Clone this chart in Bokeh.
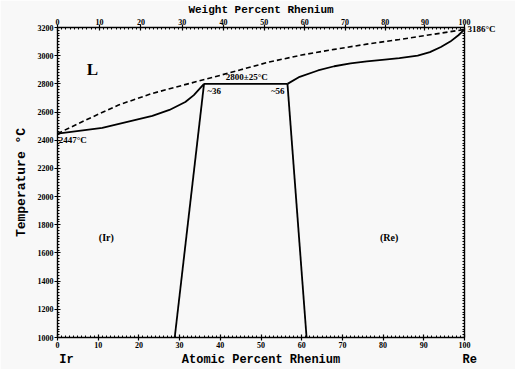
import math
from bokeh.plotting import figure
from bokeh.models import (LinearAxis, SingleIntervalTicker, FixedTicker,
                          CustomJSTickFormatter, Label, Range1d)
from bokeh.embed import file_html
from bokeh.resources import INLINE

# ---- data (atomic percent Re, temperature in deg C) ----
liq_at = [0, 7, 15, 23, 31, 38, 45, 52, 60, 68, 76, 84, 92, 100]
liq_T = [2447, 2544, 2650, 2730, 2792, 2845, 2900, 2955, 3005, 3045, 3082, 3115, 3150, 3186]

sol_ir_at = [0, 11, 23.3, 27.5, 31.4, 33.5, 36]
sol_ir_T = [2447, 2488, 2573, 2615, 2671, 2720, 2800]

sol_re_at = [56.5, 59.5, 64, 68, 72, 76, 80.4, 84, 88.5, 91.5, 94.2, 96.5, 98.5, 100]
sol_re_T = [2800, 2850, 2895, 2925, 2945, 2960, 2972, 2982, 3000, 3025, 3062, 3100, 3145, 3186]

solvus_ir_at = [36, 28.8]
solvus_ir_T = [2800, 1000]
solvus_re_at = [56.5, 61.2]
solvus_re_T = [2800, 1000]

perit_at = [36, 56.5]
perit_T = [2800, 2800]

wt_ticks = [0, 10, 20, 30, 40, 50, 60, 70, 80, 90, 100]
re_melting = [3186]
M_IR, M_RE = 192.217, 186.207


def wt_to_at(w):
    if w >= 100:
        return 100.0
    a = (w / M_RE) / (w / M_RE + (100 - w) / M_IR)
    return 100 * a


FONT = "Liberation Mono"
SERIF = "Liberation Serif"
BG = "#f8f8f8"
NB = "\u00a0"

p = figure(width=515, height=369, x_range=Range1d(0, 100), y_range=Range1d(1000, 3200),
           output_backend="svg", toolbar_location=None,
           min_border_left=57, min_border_right=51, min_border_top=25, min_border_bottom=30,
           background_fill_color=BG, border_fill_color=BG)
p.outline_line_color = None
p.grid.visible = False


def style_axis(ax):
    ax.axis_line_width = 1.4
    ax.axis_line_color = "black"
    ax.major_tick_line_width = 1.2
    ax.major_tick_in = 3
    ax.major_tick_out = 3
    ax.minor_tick_in = 2
    ax.minor_tick_out = 0
    ax.minor_tick_line_width = 1
    ax.major_label_text_font = SERIF
    ax.major_label_text_font_style = "bold"
    ax.major_label_text_font_size = "8px"
    ax.major_label_text_color = "black"
    ax.major_label_standoff = 1
    ax.axis_label_text_font = FONT
    ax.axis_label_text_font_style = "bold"
    ax.axis_label_text_font_size = "12px"
    ax.axis_label_text_color = "black"
    ax.axis_label_standoff = 2


xt = SingleIntervalTicker(interval=10, num_minor_ticks=10)
yt = SingleIntervalTicker(interval=200, num_minor_ticks=10)

bottom = p.xaxis[0]
bottom.ticker = xt
style_axis(bottom)
bottom.axis_label = NB * 2 + "Ir" + NB * 15 + "Atomic Percent Rhenium" + NB * 17 + "Re"

left = p.yaxis[0]
left.ticker = yt
style_axis(left)
left.axis_label = "Temperature °C"
left.axis_label_text_font_size = "13px"
left.axis_label_standoff = 6

top_major = [wt_to_at(w) for w in wt_ticks]
top_minor = [wt_to_at(w) for w in range(0, 101)]
top = LinearAxis(ticker=FixedTicker(ticks=top_major, minor_ticks=top_minor),
                 formatter=CustomJSTickFormatter(code="""
                    const w = 186.207*tick/(186.207*tick + 192.217*(100-tick))*100;
                    return Math.round(w).toString();
                 """))
style_axis(top)
top.axis_label = "Weight Percent Rhenium"
top.axis_label_text_font_size = "11px"
top.major_label_standoff = 0
top.axis_label_standoff = 0
p.add_layout(top, "above")

right = LinearAxis(ticker=FixedTicker(ticks=re_melting,
                                      minor_ticks=list(range(1000, 3201, 20))),
                   formatter=CustomJSTickFormatter(code="return tick.toString() + '°C';"))
style_axis(right)
right.major_tick_in = 0
right.major_tick_out = 0
right.major_label_standoff = 3
right.major_label_text_font_size = "9px"
p.add_layout(right, "right")

# ---- curves ----
p.line(liq_at, liq_T, line_color="black", line_width=1.6, line_dash="5 3")
p.line(sol_ir_at, sol_ir_T, line_color="black", line_width=1.8)
p.line(sol_re_at, sol_re_T, line_color="black", line_width=1.8)
p.line(solvus_ir_at, solvus_ir_T, line_color="black", line_width=1.8)
p.line(solvus_re_at, solvus_re_T, line_color="black", line_width=1.8)
p.line(perit_at, perit_T, line_color="black", line_width=1.8)


def lab(x, y, text, size="9px", font=SERIF, align="left", baseline="middle", style="bold"):
    p.add_layout(Label(x=x, y=y, text=text, text_font=font, text_font_size=size,
                       text_align=align, text_baseline=baseline, text_font_style=style,
                       text_color="black"))


# annotations inside the frame
lab(46.5, 2815, "2800±25°C", size="9px", align="center", baseline="bottom")
lab(36.8, 2785, "~36", size="9px", align="left", baseline="top")
lab(55.8, 2785, "~56", size="9px", align="right", baseline="top")
lab(0.3, 2435, "2447°C", size="9px", align="left", baseline="top")
lab(8.6, 2905, "L", size="17px", align="center", baseline="middle")
lab(12, 1710, "(Ir)", size="10px", align="center", baseline="middle")
lab(81.5, 1710, "(Re)", size="10px", align="center", baseline="middle")

open("out.html", "w").write(file_html(p, INLINE))
